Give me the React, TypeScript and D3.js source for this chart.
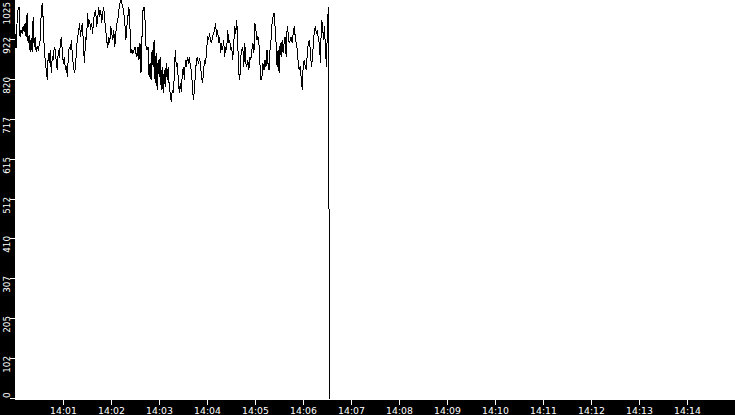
import { useEffect, useRef } from 'react'
import * as d3 from 'd3'

// time window shown on the x axis
const startTime = new Date(2000, 0, 1, 14, 0, 0)
const endTime = new Date(2000, 0, 1, 14, 15, 0)
const sampleSeconds = 1.26

// sensor readings, one per sample (last one drops to 0)
const readings: number[] = [
  939, 901, 965, 999, 1008, 931, 948, 939, 957, 944,
  965, 931, 991, 914, 935, 892, 927, 892, 982, 905,
  931, 892, 905, 897, 909, 922, 991, 1016, 974, 897,
  871, 845, 820, 888, 862, 897, 837, 879, 875, 905,
  897, 862, 845, 897, 875, 914, 931, 888, 862, 879,
  845, 854, 828, 888, 905, 897, 922, 879, 854, 837,
  854, 897, 931, 939, 965, 931, 957, 965, 897, 862,
  931, 922, 991, 957, 974, 948, 965, 939, 974, 991,
  999, 957, 974, 1008, 982, 999, 965, 991, 1008, 974,
  948, 922, 901, 931, 914, 957, 939, 922, 948, 905,
  939, 965,
  974, 999, 1016, 1025, 1016, 1008, 991, 965, 922, 957,
  982, 1008, 957, 888, 897, 888, 897, 905, 888, 879,
  905, 871, 914, 837, 931, 999, 1008, 974, 905, 897,
  905, 828, 862, 820, 897, 854, 922, 811, 888, 794,
  871, 828, 879, 794, 854, 785, 845, 802, 862, 820,
  854, 802, 785, 764, 794, 785, 828, 897, 854, 862,
  820, 785, 811, 790, 837, 854, 820, 871, 854, 879,
  862, 879, 854, 845, 802, 768, 794, 837, 871, 879,
  862, 875, 862, 828, 811, 837, 871, 862, 888, 931,
  922, 939, 922, 914, 931, 939, 948, 965, 931, 948,
  914, 931, 888, 914, 897, 922, 879,
  905, 897, 948, 914, 922, 897, 905, 871, 914, 957,
  939, 974, 914, 837, 820, 879, 897, 905, 854, 914,
  862, 854, 871, 845, 879, 871, 897, 914, 888, 965,
  948, 922, 931, 914, 862, 820, 828, 862, 845, 871,
  854, 897, 862, 845, 897, 922, 965, 982, 991, 957,
  914, 854, 897, 837, 914, 879, 922, 888, 914, 931,
  879, 957, 939, 914, 922, 931, 914, 939, 957, 931,
  914, 897, 862, 845, 854, 820, 794, 862, 871, 854,
  845, 888, 914, 922, 897, 854, 871, 914, 948, 957,
  939, 948, 922, 914, 862, 974, 965, 922, 957, 897,
  854, 965, 1008,
  0
]

const yMax = 1025
const yTickValues = [0, 102.5, 205, 307.5, 410, 512.5, 615, 717.5, 820, 922.5, 1025]
const xTickTimes = [1, 2, 3, 4, 5, 6, 7, 8, 9, 10, 11, 12, 13, 14].map(
  m => new Date(2000, 0, 1, 14, m, 0)
)

export default function App() {
  const svgRef = useRef<SVGSVGElement>(null)

  useEffect(() => {
    if (!svgRef.current) return
    const svg = d3.select(svgRef.current)
    const width = 735
    const height = 415
    const margin = { left: 15, bottom: 16 }
    const plotBottom = height - margin.bottom // 399
    const font = '"DejaVu Sans", Verdana, sans-serif'

    svg.selectAll('*').remove()

    const xScale = d3.scaleTime()
      .domain([startTime, endTime])
      .range([margin.left, width])

    const yScale = d3.scaleLinear()
      .domain([0, yMax])
      .range([plotBottom, 0])

    const points = readings.map((v, i) => ({
      t: new Date(startTime.getTime() + i * sampleSeconds * 1000),
      v
    }))

    const line = d3.line<{ t: Date; v: number }>()
      .x(d => xScale(d.t))
      .y(d => yScale(d.v))

    // trace
    svg.append('path')
      .datum(points)
      .attr('fill', 'none')
      .attr('stroke', '#000')
      .attr('stroke-width', 1)
      .attr('shape-rendering', 'crispEdges')
      .attr('d', line)

    // black axis strips
    svg.append('rect')
      .attr('x', 0).attr('y', 0)
      .attr('width', margin.left).attr('height', height)
      .attr('fill', '#000')
    svg.append('rect')
      .attr('x', 0).attr('y', plotBottom + 1)
      .attr('width', width).attr('height', margin.bottom)
      .attr('fill', '#000')

    // x ticks + labels
    const xt = svg.append('g')
    xTickTimes.forEach(t => {
      const x = Math.round(xScale(t)) + 0.5
      xt.append('line')
        .attr('x1', x).attr('x2', x)
        .attr('y1', plotBottom + 1).attr('y2', plotBottom + 6)
        .attr('stroke', '#fff')
        .attr('shape-rendering', 'crispEdges')
      xt.append('text')
        .attr('x', x)
        .attr('y', height - 1.5)
        .attr('text-anchor', 'middle')
        .attr('fill', '#fff')
        .style('font-family', font)
        .style('font-size', '9.3px')
        .text(d3.timeFormat('%H:%M')(t))
    })

    // y ticks + rotated labels
    const yt = svg.append('g')
    yTickValues.forEach(v => {
      const y = Math.round(yScale(v)) - 0.5
      yt.append('line')
        .attr('x1', 10).attr('x2', margin.left)
        .attr('y1', y).attr('y2', y)
        .attr('stroke', '#fff')
        .attr('shape-rendering', 'crispEdges')
      const atBottom = v === 0
      const ly = atBottom ? y - 0.5 : Math.max(y - 2.5, 2)
      yt.append('text')
        .attr('transform', `translate(10, ${ly}) rotate(-90)`)
        .attr('text-anchor', atBottom ? 'start' : 'end')
        .attr('fill', '#fff')
        .style('font-family', font)
        .style('font-size', '8.8px')
        .text(String(Math.floor(v)))
    })
  }, [])

  return (
    <svg
      ref={svgRef}
      width={735}
      height={415}
      style={{ position: 'absolute', left: 0, top: 0, display: 'block', background: '#fff' }}
    />
  )
}
